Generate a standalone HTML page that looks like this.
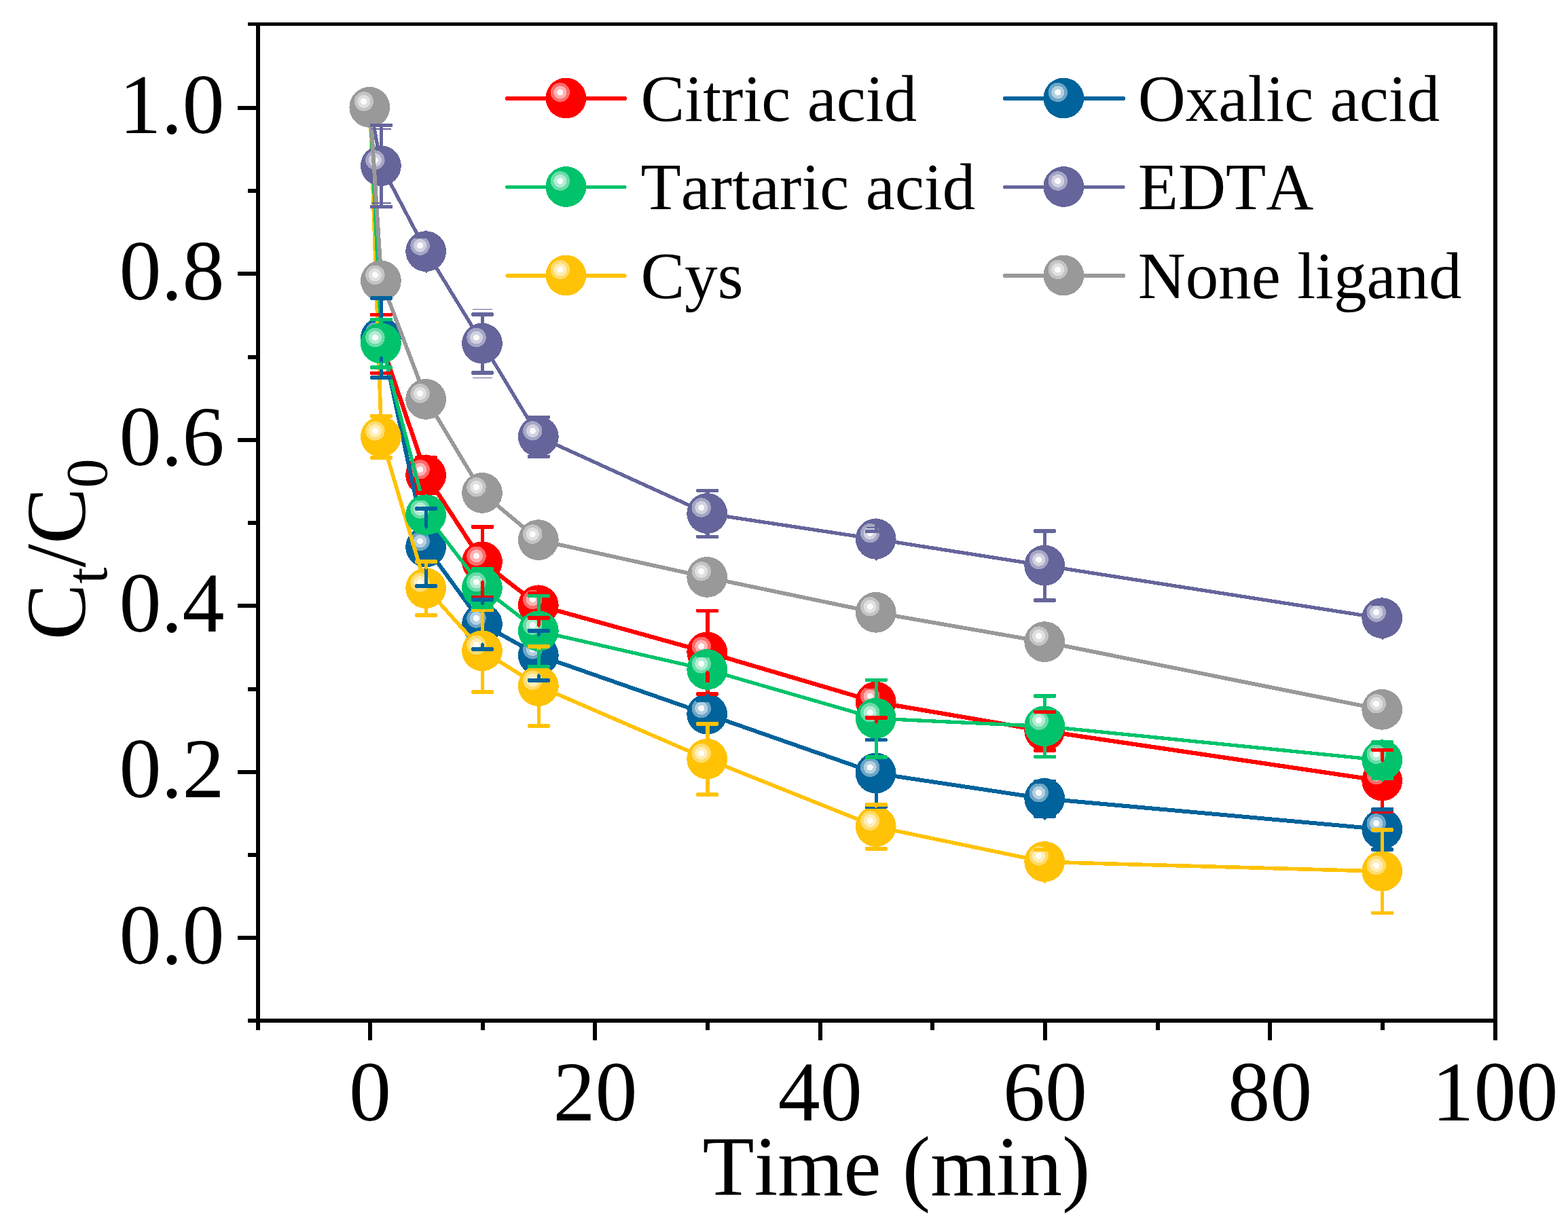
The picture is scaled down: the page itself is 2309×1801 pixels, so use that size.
<!DOCTYPE html>
<html lang="en"><head><meta charset="utf-8"><title>Ct/C0 versus time for different ligands</title><style>html,body{margin:0;padding:0;background:#fff}body{width:2309px;height:1801px;overflow:hidden}svg{display:block}text{font-family:"Liberation Serif","Times New Roman",serif;fill:#000;font-kerning:none}.tk{font-size:124px}.lg{font-size:97px}.sub{font-size:86px}</style></head><body>
<svg width="2309" height="1801" viewBox="0 0 2309 1801">
<rect width="2309" height="1801" fill="#fff"/>
<g shape-rendering="crispEdges">
<g><polyline points="545.1,158.3 561.7,505.6 627.9,700.2 710.8,827.7 793.6,891.8 1042.0,960.7 1290.5,1034.0 1539.0,1076.6 2036.0,1150.0" fill="none" stroke="#FF0000" stroke-width="6.3" stroke-linejoin="round" stroke-linecap="round"/><circle cx="544.3" cy="157.9" r="29.9" fill="#FF0000"/><circle cx="535.8" cy="149.4" r="14.2" fill="#FF6B6B"/><circle cx="535.8" cy="149.4" r="9.6" fill="#FFB2B2"/><circle cx="535.8" cy="149.4" r="4.6" fill="#FFF7F7"/><circle cx="560.9" cy="505.2" r="29.9" fill="#FF0000"/><circle cx="552.4" cy="496.7" r="14.2" fill="#FF6B6B"/><circle cx="552.4" cy="496.7" r="9.6" fill="#FFB2B2"/><circle cx="552.4" cy="496.7" r="4.6" fill="#FFF7F7"/><circle cx="627.1" cy="699.8" r="29.9" fill="#FF0000"/><circle cx="618.6" cy="691.3" r="14.2" fill="#FF6B6B"/><circle cx="618.6" cy="691.3" r="9.6" fill="#FFB2B2"/><circle cx="618.6" cy="691.3" r="4.6" fill="#FFF7F7"/><circle cx="710.0" cy="827.3" r="29.9" fill="#FF0000"/><circle cx="701.5" cy="818.8" r="14.2" fill="#FF6B6B"/><circle cx="701.5" cy="818.8" r="9.6" fill="#FFB2B2"/><circle cx="701.5" cy="818.8" r="4.6" fill="#FFF7F7"/><circle cx="792.8" cy="891.4" r="29.9" fill="#FF0000"/><circle cx="784.3" cy="882.9" r="14.2" fill="#FF6B6B"/><circle cx="784.3" cy="882.9" r="9.6" fill="#FFB2B2"/><circle cx="784.3" cy="882.9" r="4.6" fill="#FFF7F7"/><circle cx="1041.2" cy="960.3" r="29.9" fill="#FF0000"/><circle cx="1032.8" cy="951.8" r="14.2" fill="#FF6B6B"/><circle cx="1032.8" cy="951.8" r="9.6" fill="#FFB2B2"/><circle cx="1032.8" cy="951.8" r="4.6" fill="#FFF7F7"/><circle cx="1289.7" cy="1033.6" r="29.9" fill="#FF0000"/><circle cx="1281.2" cy="1025.1" r="14.2" fill="#FF6B6B"/><circle cx="1281.2" cy="1025.1" r="9.6" fill="#FFB2B2"/><circle cx="1281.2" cy="1025.1" r="4.6" fill="#FFF7F7"/><circle cx="1538.2" cy="1076.2" r="29.9" fill="#FF0000"/><circle cx="1529.7" cy="1067.7" r="14.2" fill="#FF6B6B"/><circle cx="1529.7" cy="1067.7" r="9.6" fill="#FFB2B2"/><circle cx="1529.7" cy="1067.7" r="4.6" fill="#FFF7F7"/><circle cx="2035.2" cy="1149.6" r="29.9" fill="#FF0000"/><circle cx="2026.7" cy="1141.1" r="14.2" fill="#FF6B6B"/><circle cx="2026.7" cy="1141.1" r="9.6" fill="#FFB2B2"/><circle cx="2026.7" cy="1141.1" r="4.6" fill="#FFF7F7"/></g>
<g><polyline points="545.1,158.3 561.7,497.6 627.9,805.9 710.8,919.4 793.6,965.3 1042.0,1052.0 1290.5,1138.9 1539.0,1176.2 2036.0,1221.3" fill="none" stroke="#00639B" stroke-width="6.0" stroke-linejoin="round" stroke-linecap="round"/><circle cx="544.3" cy="157.9" r="29.9" fill="#00639B"/><circle cx="535.8" cy="149.4" r="14.2" fill="#6BA5C5"/><circle cx="535.8" cy="149.4" r="9.6" fill="#B2D0E1"/><circle cx="535.8" cy="149.4" r="4.6" fill="#F7FAFC"/><circle cx="560.9" cy="497.2" r="29.9" fill="#00639B"/><circle cx="552.4" cy="488.7" r="14.2" fill="#6BA5C5"/><circle cx="552.4" cy="488.7" r="9.6" fill="#B2D0E1"/><circle cx="552.4" cy="488.7" r="4.6" fill="#F7FAFC"/><circle cx="627.1" cy="805.5" r="29.9" fill="#00639B"/><circle cx="618.6" cy="797.0" r="14.2" fill="#6BA5C5"/><circle cx="618.6" cy="797.0" r="9.6" fill="#B2D0E1"/><circle cx="618.6" cy="797.0" r="4.6" fill="#F7FAFC"/><circle cx="710.0" cy="919.0" r="29.9" fill="#00639B"/><circle cx="701.5" cy="910.5" r="14.2" fill="#6BA5C5"/><circle cx="701.5" cy="910.5" r="9.6" fill="#B2D0E1"/><circle cx="701.5" cy="910.5" r="4.6" fill="#F7FAFC"/><circle cx="792.8" cy="964.9" r="29.9" fill="#00639B"/><circle cx="784.3" cy="956.4" r="14.2" fill="#6BA5C5"/><circle cx="784.3" cy="956.4" r="9.6" fill="#B2D0E1"/><circle cx="784.3" cy="956.4" r="4.6" fill="#F7FAFC"/><circle cx="1041.2" cy="1051.6" r="29.9" fill="#00639B"/><circle cx="1032.8" cy="1043.1" r="14.2" fill="#6BA5C5"/><circle cx="1032.8" cy="1043.1" r="9.6" fill="#B2D0E1"/><circle cx="1032.8" cy="1043.1" r="4.6" fill="#F7FAFC"/><circle cx="1289.7" cy="1138.5" r="29.9" fill="#00639B"/><circle cx="1281.2" cy="1130.0" r="14.2" fill="#6BA5C5"/><circle cx="1281.2" cy="1130.0" r="9.6" fill="#B2D0E1"/><circle cx="1281.2" cy="1130.0" r="4.6" fill="#F7FAFC"/><circle cx="1538.2" cy="1175.8" r="29.9" fill="#00639B"/><circle cx="1529.7" cy="1167.3" r="14.2" fill="#6BA5C5"/><circle cx="1529.7" cy="1167.3" r="9.6" fill="#B2D0E1"/><circle cx="1529.7" cy="1167.3" r="4.6" fill="#F7FAFC"/><circle cx="2035.2" cy="1220.9" r="29.9" fill="#00639B"/><circle cx="2026.7" cy="1212.4" r="14.2" fill="#6BA5C5"/><circle cx="2026.7" cy="1212.4" r="9.6" fill="#B2D0E1"/><circle cx="2026.7" cy="1212.4" r="4.6" fill="#F7FAFC"/></g>
<g><polyline points="545.1,158.3 561.7,643.5 627.9,866.5 710.8,958.7 793.6,1010.5 1042.0,1118.0 1290.5,1217.5 1539.0,1269.3 2036.0,1283.2" fill="none" stroke="#FFC205" stroke-width="5.6" stroke-linejoin="round" stroke-linecap="round"/><circle cx="544.3" cy="157.9" r="29.9" fill="#FFC205"/><circle cx="535.8" cy="149.4" r="14.2" fill="#FFDC6E"/><circle cx="535.8" cy="149.4" r="9.6" fill="#FFEDB4"/><circle cx="535.8" cy="149.4" r="4.6" fill="#FFFDF8"/><circle cx="560.9" cy="643.1" r="29.9" fill="#FFC205"/><circle cx="552.4" cy="634.6" r="14.2" fill="#FFDC6E"/><circle cx="552.4" cy="634.6" r="9.6" fill="#FFEDB4"/><circle cx="552.4" cy="634.6" r="4.6" fill="#FFFDF8"/><circle cx="627.1" cy="866.1" r="29.9" fill="#FFC205"/><circle cx="618.6" cy="857.6" r="14.2" fill="#FFDC6E"/><circle cx="618.6" cy="857.6" r="9.6" fill="#FFEDB4"/><circle cx="618.6" cy="857.6" r="4.6" fill="#FFFDF8"/><circle cx="710.0" cy="958.3" r="29.9" fill="#FFC205"/><circle cx="701.5" cy="949.8" r="14.2" fill="#FFDC6E"/><circle cx="701.5" cy="949.8" r="9.6" fill="#FFEDB4"/><circle cx="701.5" cy="949.8" r="4.6" fill="#FFFDF8"/><circle cx="792.8" cy="1010.1" r="29.9" fill="#FFC205"/><circle cx="784.3" cy="1001.6" r="14.2" fill="#FFDC6E"/><circle cx="784.3" cy="1001.6" r="9.6" fill="#FFEDB4"/><circle cx="784.3" cy="1001.6" r="4.6" fill="#FFFDF8"/><circle cx="1041.2" cy="1117.6" r="29.9" fill="#FFC205"/><circle cx="1032.8" cy="1109.1" r="14.2" fill="#FFDC6E"/><circle cx="1032.8" cy="1109.1" r="9.6" fill="#FFEDB4"/><circle cx="1032.8" cy="1109.1" r="4.6" fill="#FFFDF8"/><circle cx="1289.7" cy="1217.1" r="29.9" fill="#FFC205"/><circle cx="1281.2" cy="1208.6" r="14.2" fill="#FFDC6E"/><circle cx="1281.2" cy="1208.6" r="9.6" fill="#FFEDB4"/><circle cx="1281.2" cy="1208.6" r="4.6" fill="#FFFDF8"/><circle cx="1538.2" cy="1268.9" r="29.9" fill="#FFC205"/><circle cx="1529.7" cy="1260.4" r="14.2" fill="#FFDC6E"/><circle cx="1529.7" cy="1260.4" r="9.6" fill="#FFEDB4"/><circle cx="1529.7" cy="1260.4" r="4.6" fill="#FFFDF8"/><circle cx="2035.2" cy="1282.8" r="29.9" fill="#FFC205"/><circle cx="2026.7" cy="1274.3" r="14.2" fill="#FFDC6E"/><circle cx="2026.7" cy="1274.3" r="9.6" fill="#FFEDB4"/><circle cx="2026.7" cy="1274.3" r="4.6" fill="#FFFDF8"/></g>
<g><polyline points="545.1,158.3 561.7,505.9 627.9,758.4 710.8,866.0 793.6,929.6 1042.0,986.3 1290.5,1058.1 1539.0,1069.6 2036.0,1119.6" fill="none" stroke="#00C36B" stroke-width="5.3" stroke-linejoin="round" stroke-linecap="round"/><circle cx="544.3" cy="157.9" r="29.9" fill="#00C36B"/><circle cx="535.8" cy="149.4" r="14.2" fill="#6BDCA9"/><circle cx="535.8" cy="149.4" r="9.6" fill="#B2EDD3"/><circle cx="535.8" cy="149.4" r="4.6" fill="#F7FDFB"/><circle cx="560.9" cy="505.5" r="29.9" fill="#00C36B"/><circle cx="552.4" cy="497.0" r="14.2" fill="#6BDCA9"/><circle cx="552.4" cy="497.0" r="9.6" fill="#B2EDD3"/><circle cx="552.4" cy="497.0" r="4.6" fill="#F7FDFB"/><circle cx="627.1" cy="758.0" r="29.9" fill="#00C36B"/><circle cx="618.6" cy="749.5" r="14.2" fill="#6BDCA9"/><circle cx="618.6" cy="749.5" r="9.6" fill="#B2EDD3"/><circle cx="618.6" cy="749.5" r="4.6" fill="#F7FDFB"/><circle cx="710.0" cy="865.6" r="29.9" fill="#00C36B"/><circle cx="701.5" cy="857.1" r="14.2" fill="#6BDCA9"/><circle cx="701.5" cy="857.1" r="9.6" fill="#B2EDD3"/><circle cx="701.5" cy="857.1" r="4.6" fill="#F7FDFB"/><circle cx="792.8" cy="929.2" r="29.9" fill="#00C36B"/><circle cx="784.3" cy="920.7" r="14.2" fill="#6BDCA9"/><circle cx="784.3" cy="920.7" r="9.6" fill="#B2EDD3"/><circle cx="784.3" cy="920.7" r="4.6" fill="#F7FDFB"/><circle cx="1041.2" cy="985.9" r="29.9" fill="#00C36B"/><circle cx="1032.8" cy="977.4" r="14.2" fill="#6BDCA9"/><circle cx="1032.8" cy="977.4" r="9.6" fill="#B2EDD3"/><circle cx="1032.8" cy="977.4" r="4.6" fill="#F7FDFB"/><circle cx="1289.7" cy="1057.7" r="29.9" fill="#00C36B"/><circle cx="1281.2" cy="1049.2" r="14.2" fill="#6BDCA9"/><circle cx="1281.2" cy="1049.2" r="9.6" fill="#B2EDD3"/><circle cx="1281.2" cy="1049.2" r="4.6" fill="#F7FDFB"/><circle cx="1538.2" cy="1069.2" r="29.9" fill="#00C36B"/><circle cx="1529.7" cy="1060.7" r="14.2" fill="#6BDCA9"/><circle cx="1529.7" cy="1060.7" r="9.6" fill="#B2EDD3"/><circle cx="1529.7" cy="1060.7" r="4.6" fill="#F7FDFB"/><circle cx="2035.2" cy="1119.2" r="29.9" fill="#00C36B"/><circle cx="2026.7" cy="1110.7" r="14.2" fill="#6BDCA9"/><circle cx="2026.7" cy="1110.7" r="9.6" fill="#B2EDD3"/><circle cx="2026.7" cy="1110.7" r="4.6" fill="#F7FDFB"/></g>
<g><polyline points="545.1,158.3 561.7,244.5 627.9,370.5 710.8,506.0 793.6,643.3 1042.0,756.4 1290.5,794.0 1539.0,833.0 2036.0,910.6" fill="none" stroke="#65659B" stroke-width="5.3" stroke-linejoin="round" stroke-linecap="round"/><circle cx="544.3" cy="157.9" r="29.9" fill="#65659B"/><circle cx="535.8" cy="149.4" r="14.2" fill="#A6A6C5"/><circle cx="535.8" cy="149.4" r="9.6" fill="#D1D1E1"/><circle cx="535.8" cy="149.4" r="4.6" fill="#FAFAFC"/><circle cx="560.9" cy="244.1" r="29.9" fill="#65659B"/><circle cx="552.4" cy="235.6" r="14.2" fill="#A6A6C5"/><circle cx="552.4" cy="235.6" r="9.6" fill="#D1D1E1"/><circle cx="552.4" cy="235.6" r="4.6" fill="#FAFAFC"/><circle cx="627.1" cy="370.1" r="29.9" fill="#65659B"/><circle cx="618.6" cy="361.6" r="14.2" fill="#A6A6C5"/><circle cx="618.6" cy="361.6" r="9.6" fill="#D1D1E1"/><circle cx="618.6" cy="361.6" r="4.6" fill="#FAFAFC"/><circle cx="710.0" cy="505.6" r="29.9" fill="#65659B"/><circle cx="701.5" cy="497.1" r="14.2" fill="#A6A6C5"/><circle cx="701.5" cy="497.1" r="9.6" fill="#D1D1E1"/><circle cx="701.5" cy="497.1" r="4.6" fill="#FAFAFC"/><circle cx="792.8" cy="642.9" r="29.9" fill="#65659B"/><circle cx="784.3" cy="634.4" r="14.2" fill="#A6A6C5"/><circle cx="784.3" cy="634.4" r="9.6" fill="#D1D1E1"/><circle cx="784.3" cy="634.4" r="4.6" fill="#FAFAFC"/><circle cx="1041.2" cy="756.0" r="29.9" fill="#65659B"/><circle cx="1032.8" cy="747.5" r="14.2" fill="#A6A6C5"/><circle cx="1032.8" cy="747.5" r="9.6" fill="#D1D1E1"/><circle cx="1032.8" cy="747.5" r="4.6" fill="#FAFAFC"/><circle cx="1289.7" cy="793.6" r="29.9" fill="#65659B"/><circle cx="1281.2" cy="785.1" r="14.2" fill="#A6A6C5"/><circle cx="1281.2" cy="785.1" r="9.6" fill="#D1D1E1"/><circle cx="1281.2" cy="785.1" r="4.6" fill="#FAFAFC"/><circle cx="1538.2" cy="832.6" r="29.9" fill="#65659B"/><circle cx="1529.7" cy="824.1" r="14.2" fill="#A6A6C5"/><circle cx="1529.7" cy="824.1" r="9.6" fill="#D1D1E1"/><circle cx="1529.7" cy="824.1" r="4.6" fill="#FAFAFC"/><circle cx="2035.2" cy="910.2" r="29.9" fill="#65659B"/><circle cx="2026.7" cy="901.7" r="14.2" fill="#A6A6C5"/><circle cx="2026.7" cy="901.7" r="9.6" fill="#D1D1E1"/><circle cx="2026.7" cy="901.7" r="4.6" fill="#FAFAFC"/></g>
<g><polyline points="545.1,158.3 561.7,413.8 627.9,588.3 710.8,726.3 793.6,795.5 1042.0,850.3 1290.5,902.2 1539.0,945.5 2036.0,1045.2" fill="none" stroke="#999999" stroke-width="5.8" stroke-linejoin="round" stroke-linecap="round"/><circle cx="544.3" cy="157.9" r="29.9" fill="#999999"/><circle cx="535.8" cy="149.4" r="14.2" fill="#C4C4C4"/><circle cx="535.8" cy="149.4" r="9.6" fill="#E0E0E0"/><circle cx="535.8" cy="149.4" r="4.6" fill="#FCFCFC"/><circle cx="560.9" cy="413.4" r="29.9" fill="#999999"/><circle cx="552.4" cy="404.9" r="14.2" fill="#C4C4C4"/><circle cx="552.4" cy="404.9" r="9.6" fill="#E0E0E0"/><circle cx="552.4" cy="404.9" r="4.6" fill="#FCFCFC"/><circle cx="627.1" cy="587.9" r="29.9" fill="#999999"/><circle cx="618.6" cy="579.4" r="14.2" fill="#C4C4C4"/><circle cx="618.6" cy="579.4" r="9.6" fill="#E0E0E0"/><circle cx="618.6" cy="579.4" r="4.6" fill="#FCFCFC"/><circle cx="710.0" cy="725.9" r="29.9" fill="#999999"/><circle cx="701.5" cy="717.4" r="14.2" fill="#C4C4C4"/><circle cx="701.5" cy="717.4" r="9.6" fill="#E0E0E0"/><circle cx="701.5" cy="717.4" r="4.6" fill="#FCFCFC"/><circle cx="792.8" cy="795.1" r="29.9" fill="#999999"/><circle cx="784.3" cy="786.6" r="14.2" fill="#C4C4C4"/><circle cx="784.3" cy="786.6" r="9.6" fill="#E0E0E0"/><circle cx="784.3" cy="786.6" r="4.6" fill="#FCFCFC"/><circle cx="1041.2" cy="849.9" r="29.9" fill="#999999"/><circle cx="1032.8" cy="841.4" r="14.2" fill="#C4C4C4"/><circle cx="1032.8" cy="841.4" r="9.6" fill="#E0E0E0"/><circle cx="1032.8" cy="841.4" r="4.6" fill="#FCFCFC"/><circle cx="1289.7" cy="901.8" r="29.9" fill="#999999"/><circle cx="1281.2" cy="893.3" r="14.2" fill="#C4C4C4"/><circle cx="1281.2" cy="893.3" r="9.6" fill="#E0E0E0"/><circle cx="1281.2" cy="893.3" r="4.6" fill="#FCFCFC"/><circle cx="1538.2" cy="945.1" r="29.9" fill="#999999"/><circle cx="1529.7" cy="936.6" r="14.2" fill="#C4C4C4"/><circle cx="1529.7" cy="936.6" r="9.6" fill="#E0E0E0"/><circle cx="1529.7" cy="936.6" r="4.6" fill="#FCFCFC"/><circle cx="2035.2" cy="1044.8" r="29.9" fill="#999999"/><circle cx="2026.7" cy="1036.3" r="14.2" fill="#C4C4C4"/><circle cx="2026.7" cy="1036.3" r="9.6" fill="#E0E0E0"/><circle cx="2026.7" cy="1036.3" r="4.6" fill="#FCFCFC"/></g>
<g stroke="#FF0000" fill="#FF0000" stroke-width="5.6" stroke-linecap="round"><polygon points="558.7,463.3 564.1,463.3 564.1,475.5 561.4,478.5 558.7,475.5" stroke="none"/><polygon points="544.8,461.7 546.0,460.5 576.8,460.5 578.0,461.7 578.0,464.9 576.8,466.1 546.0,466.1 544.8,464.9" stroke="none"/><polygon points="558.7,549.4 564.1,549.4 564.1,534.9 561.4,531.9 558.7,534.9" stroke="none"/><polygon points="544.8,547.8 546.0,546.6 576.8,546.6 578.0,547.8 578.0,551.0 576.8,552.2 546.0,552.2 544.8,551.0" stroke="none"/><polygon points="624.9,674.2 630.3,674.2 630.3,671.7 627.6,668.7 624.9,671.7" stroke="none"/><polygon points="611.0,672.6 612.2,671.4 643.0,671.4 644.2,672.6 644.2,675.8 643.0,677.0 612.2,677.0 611.0,675.8" stroke="none"/><polygon points="624.9,726.2 630.3,726.2 630.3,729.3 627.6,732.3 624.9,729.3" stroke="none"/><polygon points="611.0,724.6 612.2,723.4 643.0,723.4 644.2,724.6 644.2,727.8 643.0,729.0 612.2,729.0 611.0,727.8" stroke="none"/><polygon points="707.8,775.7 713.2,775.7 713.2,797.6 710.5,800.6 707.8,797.6" stroke="none"/><polygon points="693.9,774.1 695.1,772.9 725.9,772.9 727.1,774.1 727.1,777.3 725.9,778.5 695.1,778.5 693.9,777.3" stroke="none"/><polygon points="707.8,879.7 713.2,879.7 713.2,857.0 710.5,854.0 707.8,857.0" stroke="none"/><polygon points="693.9,878.1 695.1,876.9 725.9,876.9 727.1,878.1 727.1,881.3 725.9,882.5 695.1,882.5 693.9,881.3" stroke="none"/><polygon points="790.6,873.8 796.0,873.8 796.0,863.3 793.3,860.3 790.6,863.3" stroke="none"/><polygon points="776.7,872.2 777.9,871.0 808.7,871.0 809.9,872.2 809.9,875.4 808.7,876.6 777.9,876.6 776.7,875.4" stroke="none"/><polygon points="790.6,909.8 796.0,909.8 796.0,920.9 793.3,923.9 790.6,920.9" stroke="none"/><polygon points="776.7,908.2 777.9,907.0 808.7,907.0 809.9,908.2 809.9,911.4 808.7,912.6 777.9,912.6 776.7,911.4" stroke="none"/><polygon points="1039.0,899.4 1044.5,899.4 1044.5,930.6 1041.8,933.6 1039.0,930.6" stroke="none"/><polygon points="1025.2,897.8 1026.3,896.6 1057.2,896.6 1058.3,897.8 1058.3,901.0 1057.2,902.2 1026.3,902.2 1025.2,901.0" stroke="none"/><polygon points="1039.0,1022.0 1044.5,1022.0 1044.5,990.0 1041.8,987.0 1039.0,990.0" stroke="none"/><polygon points="1025.2,1020.4 1026.3,1019.2 1057.2,1019.2 1058.3,1020.4 1058.3,1023.6 1057.2,1024.8 1026.3,1024.8 1025.2,1023.6" stroke="none"/><polygon points="1287.5,1011.0 1292.9,1011.0 1292.9,1005.5 1290.2,1002.5 1287.5,1005.5" stroke="none"/><polygon points="1273.6,1009.4 1274.8,1008.2 1305.6,1008.2 1306.8,1009.4 1306.8,1012.6 1305.6,1013.8 1274.8,1013.8 1273.6,1012.6" stroke="none"/><polygon points="1287.5,1057.0 1292.9,1057.0 1292.9,1063.1 1290.2,1066.1 1287.5,1063.1" stroke="none"/><polygon points="1273.6,1055.4 1274.8,1054.2 1305.6,1054.2 1306.8,1055.4 1306.8,1058.6 1305.6,1059.8 1274.8,1059.8 1273.6,1058.6" stroke="none"/><polygon points="1536.0,1048.4 1541.4,1048.4 1541.4,1048.1 1538.7,1045.1 1536.0,1048.1" stroke="none"/><polygon points="1522.1,1046.8 1523.3,1045.6 1554.1,1045.6 1555.3,1046.8 1555.3,1050.0 1554.1,1051.2 1523.3,1051.2 1522.1,1050.0" stroke="none"/><polygon points="1536.0,1104.8 1541.4,1104.8 1541.4,1105.7 1538.7,1108.7 1536.0,1105.7" stroke="none"/><polygon points="1522.1,1103.2 1523.3,1102.0 1554.1,1102.0 1555.3,1103.2 1555.3,1106.4 1554.1,1107.6 1523.3,1107.6 1522.1,1106.4" stroke="none"/><polygon points="2033.0,1104.4 2038.4,1104.4 2038.4,1119.9 2035.7,1122.9 2033.0,1119.9" stroke="none"/><polygon points="2019.1,1102.8 2020.2,1101.6 2051.1,1101.6 2052.2,1102.8 2052.2,1106.0 2051.1,1107.2 2020.2,1107.2 2019.1,1106.0" stroke="none"/><polygon points="2033.0,1195.6 2038.4,1195.6 2038.4,1179.3 2035.7,1176.3 2033.0,1179.3" stroke="none"/><polygon points="2019.1,1194.0 2020.2,1192.8 2051.1,1192.8 2052.2,1194.0 2052.2,1197.2 2051.1,1198.4 2020.2,1198.4 2019.1,1197.2" stroke="none"/></g>
<g stroke="#00639B" fill="#00639B" stroke-width="5.6" stroke-linecap="round"><polygon points="558.7,439.0 564.1,439.0 564.1,467.5 561.4,470.5 558.7,467.5" stroke="none"/><polygon points="544.8,437.4 546.0,436.2 576.8,436.2 578.0,437.4 578.0,440.6 576.8,441.8 546.0,441.8 544.8,440.6" stroke="none"/><polygon points="558.7,556.2 564.1,556.2 564.1,526.9 561.4,523.9 558.7,526.9" stroke="none"/><polygon points="544.8,554.6 546.0,553.4 576.8,553.4 578.0,554.6 578.0,557.8 576.8,559.0 546.0,559.0 544.8,557.8" stroke="none"/><polygon points="624.9,748.7 630.3,748.7 630.3,775.8 627.6,778.8 624.9,775.8" stroke="none"/><polygon points="611.0,747.1 612.2,745.9 643.0,745.9 644.2,747.1 644.2,750.3 643.0,751.5 612.2,751.5 611.0,750.3" stroke="none"/><polygon points="624.9,863.1 630.3,863.1 630.3,835.2 627.6,832.2 624.9,835.2" stroke="none"/><polygon points="611.0,861.5 612.2,860.3 643.0,860.3 644.2,861.5 644.2,864.7 643.0,865.9 612.2,865.9 611.0,864.7" stroke="none"/><polygon points="707.8,882.8 713.2,882.8 713.2,889.3 710.5,892.3 707.8,889.3" stroke="none"/><polygon points="693.9,881.2 695.1,880.0 725.9,880.0 727.1,881.2 727.1,884.4 725.9,885.6 695.1,885.6 693.9,884.4" stroke="none"/><polygon points="707.8,956.0 713.2,956.0 713.2,948.7 710.5,945.7 707.8,948.7" stroke="none"/><polygon points="693.9,954.4 695.1,953.2 725.9,953.2 727.1,954.4 727.1,957.6 725.9,958.8 695.1,958.8 693.9,957.6" stroke="none"/><polygon points="790.6,928.7 796.0,928.7 796.0,935.2 793.3,938.2 790.6,935.2" stroke="none"/><polygon points="776.7,927.1 777.9,925.9 808.7,925.9 809.9,927.1 809.9,930.3 808.7,931.5 777.9,931.5 776.7,930.3" stroke="none"/><polygon points="790.6,1001.9 796.0,1001.9 796.0,994.6 793.3,991.6 790.6,994.6" stroke="none"/><polygon points="776.7,1000.3 777.9,999.1 808.7,999.1 809.9,1000.3 809.9,1003.5 808.7,1004.7 777.9,1004.7 776.7,1003.5" stroke="none"/><polygon points="1039.0,1031.6 1044.5,1031.6 1044.5,1023.5 1041.8,1020.5 1039.0,1023.5" stroke="none"/><polygon points="1025.2,1030.0 1026.3,1028.8 1057.2,1028.8 1058.3,1030.0 1058.3,1033.2 1057.2,1034.4 1026.3,1034.4 1025.2,1033.2" stroke="none"/><polygon points="1039.0,1072.4 1044.5,1072.4 1044.5,1081.1 1041.8,1084.1 1039.0,1081.1" stroke="none"/><polygon points="1025.2,1070.8 1026.3,1069.6 1057.2,1069.6 1058.3,1070.8 1058.3,1074.0 1057.2,1075.2 1026.3,1075.2 1025.2,1074.0" stroke="none"/><polygon points="1287.5,1089.6 1292.9,1089.6 1292.9,1108.8 1290.2,1111.8 1287.5,1108.8" stroke="none"/><polygon points="1273.6,1088.0 1274.8,1086.8 1305.6,1086.8 1306.8,1088.0 1306.8,1091.2 1305.6,1092.4 1274.8,1092.4 1273.6,1091.2" stroke="none"/><polygon points="1287.5,1188.2 1292.9,1188.2 1292.9,1168.2 1290.2,1165.2 1287.5,1168.2" stroke="none"/><polygon points="1273.6,1186.6 1274.8,1185.4 1305.6,1185.4 1306.8,1186.6 1306.8,1189.8 1305.6,1191.0 1274.8,1191.0 1273.6,1189.8" stroke="none"/><polygon points="1536.0,1150.7 1541.4,1150.7 1541.4,1147.7 1538.7,1144.7 1536.0,1147.7" stroke="none"/><polygon points="1522.1,1149.1 1523.3,1147.9 1554.1,1147.9 1555.3,1149.1 1555.3,1152.3 1554.1,1153.5 1523.3,1153.5 1522.1,1152.3" stroke="none"/><polygon points="1536.0,1201.7 1541.4,1201.7 1541.4,1205.3 1538.7,1208.3 1536.0,1205.3" stroke="none"/><polygon points="1522.1,1200.1 1523.3,1198.9 1554.1,1198.9 1555.3,1200.1 1555.3,1203.3 1554.1,1204.5 1523.3,1204.5 1522.1,1203.3" stroke="none"/><polygon points="2033.0,1191.7 2038.4,1191.7 2038.4,1191.7 2035.7,1189.8 2033.0,1191.7" stroke="none"/><polygon points="2019.1,1190.1 2020.2,1188.9 2051.1,1188.9 2052.2,1190.1 2052.2,1193.3 2051.1,1194.5 2020.2,1194.5 2019.1,1193.3" stroke="none"/><polygon points="2033.0,1250.9 2038.4,1250.9 2038.4,1250.9 2035.7,1253.4 2033.0,1250.9" stroke="none"/><polygon points="2019.1,1249.3 2020.2,1248.1 2051.1,1248.1 2052.2,1249.3 2052.2,1252.5 2051.1,1253.7 2020.2,1253.7 2019.1,1252.5" stroke="none"/></g>
<g stroke="#FFC205" fill="#FFC205" stroke-width="5.6" stroke-linecap="round"><polygon points="558.7,612.8 564.1,612.8 564.1,613.4 561.4,616.4 558.7,613.4" stroke="none"/><polygon points="544.8,611.2 546.0,610.0 576.8,610.0 578.0,611.2 578.0,614.4 576.8,615.6 546.0,615.6 544.8,614.4" stroke="none"/><polygon points="558.7,674.2 564.1,674.2 564.1,672.8 561.4,669.8 558.7,672.8" stroke="none"/><polygon points="544.8,672.6 546.0,671.4 576.8,671.4 578.0,672.6 578.0,675.8 576.8,677.0 546.0,677.0 544.8,675.8" stroke="none"/><polygon points="624.9,827.0 630.3,827.0 630.3,836.4 627.6,839.4 624.9,836.4" stroke="none"/><polygon points="611.0,825.4 612.2,824.2 643.0,824.2 644.2,825.4 644.2,828.6 643.0,829.8 612.2,829.8 611.0,828.6" stroke="none"/><polygon points="624.9,906.0 630.3,906.0 630.3,895.8 627.6,892.8 624.9,895.8" stroke="none"/><polygon points="611.0,904.4 612.2,903.2 643.0,903.2 644.2,904.4 644.2,907.6 643.0,908.8 612.2,908.8 611.0,907.6" stroke="none"/><polygon points="707.8,898.5 713.2,898.5 713.2,928.6 710.5,931.6 707.8,928.6" stroke="none"/><polygon points="693.9,896.9 695.1,895.7 725.9,895.7 727.1,896.9 727.1,900.1 725.9,901.3 695.1,901.3 693.9,900.1" stroke="none"/><polygon points="707.8,1018.9 713.2,1018.9 713.2,988.0 710.5,985.0 707.8,988.0" stroke="none"/><polygon points="693.9,1017.3 695.1,1016.1 725.9,1016.1 727.1,1017.3 727.1,1020.5 725.9,1021.7 695.1,1021.7 693.9,1020.5" stroke="none"/><polygon points="790.6,951.9 796.0,951.9 796.0,980.4 793.3,983.4 790.6,980.4" stroke="none"/><polygon points="776.7,950.3 777.9,949.1 808.7,949.1 809.9,950.3 809.9,953.5 808.7,954.7 777.9,954.7 776.7,953.5" stroke="none"/><polygon points="790.6,1069.1 796.0,1069.1 796.0,1039.8 793.3,1036.8 790.6,1039.8" stroke="none"/><polygon points="776.7,1067.5 777.9,1066.3 808.7,1066.3 809.9,1067.5 809.9,1070.7 808.7,1071.9 777.9,1071.9 776.7,1070.7" stroke="none"/><polygon points="1039.0,1065.8 1044.5,1065.8 1044.5,1087.9 1041.8,1090.9 1039.0,1087.9" stroke="none"/><polygon points="1025.2,1064.2 1026.3,1063.0 1057.2,1063.0 1058.3,1064.2 1058.3,1067.4 1057.2,1068.6 1026.3,1068.6 1025.2,1067.4" stroke="none"/><polygon points="1039.0,1170.2 1044.5,1170.2 1044.5,1147.3 1041.8,1144.3 1039.0,1147.3" stroke="none"/><polygon points="1025.2,1168.6 1026.3,1167.4 1057.2,1167.4 1058.3,1168.6 1058.3,1171.8 1057.2,1173.0 1026.3,1173.0 1025.2,1171.8" stroke="none"/><polygon points="1287.5,1185.0 1292.9,1185.0 1292.9,1187.4 1290.2,1190.4 1287.5,1187.4" stroke="none"/><polygon points="1273.6,1183.4 1274.8,1182.2 1305.6,1182.2 1306.8,1183.4 1306.8,1186.6 1305.6,1187.8 1274.8,1187.8 1273.6,1186.6" stroke="none"/><polygon points="1287.5,1250.0 1292.9,1250.0 1292.9,1246.8 1290.2,1243.8 1287.5,1246.8" stroke="none"/><polygon points="1273.6,1248.4 1274.8,1247.2 1305.6,1247.2 1306.8,1248.4 1306.8,1251.6 1305.6,1252.8 1274.8,1252.8 1273.6,1251.6" stroke="none"/><polygon points="1536.0,1251.3 1541.4,1251.3 1541.4,1240.8 1538.7,1237.8 1536.0,1240.8" stroke="none"/><polygon points="1522.1,1249.7 1523.3,1248.5 1554.1,1248.5 1555.3,1249.7 1555.3,1252.9 1554.1,1254.1 1523.3,1254.1 1522.1,1252.9" stroke="none"/><polygon points="1536.0,1287.3 1541.4,1287.3 1541.4,1298.4 1538.7,1301.4 1536.0,1298.4" stroke="none"/><polygon points="1522.1,1285.7 1523.3,1284.5 1554.1,1284.5 1555.3,1285.7 1555.3,1288.9 1554.1,1290.1 1523.3,1290.1 1522.1,1288.9" stroke="none"/><polygon points="2033.0,1222.1 2038.4,1222.1 2038.4,1253.1 2035.7,1256.1 2033.0,1253.1" stroke="none"/><polygon points="2019.1,1220.5 2020.2,1219.3 2051.1,1219.3 2052.2,1220.5 2052.2,1223.7 2051.1,1224.9 2020.2,1224.9 2019.1,1223.7" stroke="none"/><polygon points="2033.0,1344.3 2038.4,1344.3 2038.4,1312.5 2035.7,1309.5 2033.0,1312.5" stroke="none"/><polygon points="2019.1,1342.7 2020.2,1341.5 2051.1,1341.5 2052.2,1342.7 2052.2,1345.9 2051.1,1347.1 2020.2,1347.1 2019.1,1345.9" stroke="none"/></g>
<g stroke="#00C36B" fill="#00C36B" stroke-width="5.6" stroke-linecap="round"><polygon points="558.7,470.6 564.1,470.6 564.1,475.8 561.4,478.8 558.7,475.8" stroke="none"/><polygon points="544.8,469.0 546.0,467.8 576.8,467.8 578.0,469.0 578.0,472.2 576.8,473.4 546.0,473.4 544.8,472.2" stroke="none"/><polygon points="558.7,541.2 564.1,541.2 564.1,535.2 561.4,532.2 558.7,535.2" stroke="none"/><polygon points="544.8,539.6 546.0,538.4 576.8,538.4 578.0,539.6 578.0,542.8 576.8,544.0 546.0,544.0 544.8,542.8" stroke="none"/><polygon points="624.9,734.4 630.3,734.4 630.3,729.9 627.6,726.9 624.9,729.9" stroke="none"/><polygon points="611.0,732.8 612.2,731.6 643.0,731.6 644.2,732.8 644.2,736.0 643.0,737.2 612.2,737.2 611.0,736.0" stroke="none"/><polygon points="624.9,782.4 630.3,782.4 630.3,787.5 627.6,790.5 624.9,787.5" stroke="none"/><polygon points="611.0,780.8 612.2,779.6 643.0,779.6 644.2,780.8 644.2,784.0 643.0,785.2 612.2,785.2 611.0,784.0" stroke="none"/><polygon points="707.8,838.2 713.2,838.2 713.2,837.5 710.5,834.5 707.8,837.5" stroke="none"/><polygon points="693.9,836.6 695.1,835.4 725.9,835.4 727.1,836.6 727.1,839.8 725.9,841.0 695.1,841.0 693.9,839.8" stroke="none"/><polygon points="707.8,893.8 713.2,893.8 713.2,895.1 710.5,898.1 707.8,895.1" stroke="none"/><polygon points="693.9,892.2 695.1,891.0 725.9,891.0 727.1,892.2 727.1,895.4 725.9,896.6 695.1,896.6 693.9,895.4" stroke="none"/><polygon points="790.6,877.6 796.0,877.6 796.0,899.5 793.3,902.5 790.6,899.5" stroke="none"/><polygon points="776.7,876.0 777.9,874.8 808.7,874.8 809.9,876.0 809.9,879.2 808.7,880.4 777.9,880.4 776.7,879.2" stroke="none"/><polygon points="790.6,981.6 796.0,981.6 796.0,958.9 793.3,955.9 790.6,958.9" stroke="none"/><polygon points="776.7,980.0 777.9,978.8 808.7,978.8 809.9,980.0 809.9,983.2 808.7,984.4 777.9,984.4 776.7,983.2" stroke="none"/><polygon points="1039.0,964.8 1044.5,964.8 1044.5,957.8 1041.8,954.8 1039.0,957.8" stroke="none"/><polygon points="1025.2,963.2 1026.3,962.0 1057.2,962.0 1058.3,963.2 1058.3,966.4 1057.2,967.6 1026.3,967.6 1025.2,966.4" stroke="none"/><polygon points="1039.0,1007.8 1044.5,1007.8 1044.5,1015.4 1041.8,1018.4 1039.0,1015.4" stroke="none"/><polygon points="1025.2,1006.2 1026.3,1005.0 1057.2,1005.0 1058.3,1006.2 1058.3,1009.4 1057.2,1010.6 1026.3,1010.6 1025.2,1009.4" stroke="none"/><polygon points="1287.5,1001.3 1292.9,1001.3 1292.9,1028.0 1290.2,1031.0 1287.5,1028.0" stroke="none"/><polygon points="1273.6,999.7 1274.8,998.5 1305.6,998.5 1306.8,999.7 1306.8,1002.9 1305.6,1004.1 1274.8,1004.1 1273.6,1002.9" stroke="none"/><polygon points="1287.5,1114.9 1292.9,1114.9 1292.9,1087.4 1290.2,1084.4 1287.5,1087.4" stroke="none"/><polygon points="1273.6,1113.3 1274.8,1112.1 1305.6,1112.1 1306.8,1113.3 1306.8,1116.5 1305.6,1117.7 1274.8,1117.7 1273.6,1116.5" stroke="none"/><polygon points="1536.0,1024.9 1541.4,1024.9 1541.4,1039.5 1538.7,1042.5 1536.0,1039.5" stroke="none"/><polygon points="1522.1,1023.3 1523.3,1022.1 1554.1,1022.1 1555.3,1023.3 1555.3,1026.5 1554.1,1027.7 1523.3,1027.7 1522.1,1026.5" stroke="none"/><polygon points="1536.0,1114.3 1541.4,1114.3 1541.4,1098.9 1538.7,1095.9 1536.0,1098.9" stroke="none"/><polygon points="1522.1,1112.7 1523.3,1111.5 1554.1,1111.5 1555.3,1112.7 1555.3,1115.9 1554.1,1117.1 1523.3,1117.1 1522.1,1115.9" stroke="none"/><polygon points="2033.0,1093.0 2038.4,1093.0 2038.4,1091.1 2035.7,1088.1 2033.0,1091.1" stroke="none"/><polygon points="2019.1,1091.4 2020.2,1090.2 2051.1,1090.2 2052.2,1091.4 2052.2,1094.6 2051.1,1095.8 2020.2,1095.8 2019.1,1094.6" stroke="none"/><polygon points="2033.0,1146.2 2038.4,1146.2 2038.4,1148.7 2035.7,1151.7 2033.0,1148.7" stroke="none"/><polygon points="2019.1,1144.6 2020.2,1143.4 2051.1,1143.4 2052.2,1144.6 2052.2,1147.8 2051.1,1149.0 2020.2,1149.0 2019.1,1147.8" stroke="none"/></g>
<g stroke="#65659B" fill="#65659B" stroke-width="5.6" stroke-linecap="round"><polygon points="558.7,184.5 564.1,184.5 564.1,214.4 561.4,217.4 558.7,214.4" stroke="none"/><polygon points="544.8,182.9 546.0,181.7 576.8,181.7 578.0,182.9 578.0,186.1 576.8,187.3 546.0,187.3 544.8,186.1" stroke="none"/><polygon points="558.7,304.5 564.1,304.5 564.1,273.8 561.4,270.8 558.7,273.8" stroke="none"/><polygon points="544.8,302.9 546.0,301.7 576.8,301.7 578.0,302.9 578.0,306.1 576.8,307.3 546.0,307.3 544.8,306.1" stroke="none"/><polygon points="624.9,348.5 630.3,348.5 630.3,342.0 627.6,339.0 624.9,342.0" stroke="none"/><polygon points="611.0,346.9 612.2,345.7 643.0,345.7 644.2,346.9 644.2,350.1 643.0,351.3 612.2,351.3 611.0,350.1" stroke="none"/><polygon points="624.9,392.5 630.3,392.5 630.3,399.6 627.6,402.6 624.9,399.6" stroke="none"/><polygon points="611.0,390.9 612.2,389.7 643.0,389.7 644.2,390.9 644.2,394.1 643.0,395.3 612.2,395.3 611.0,394.1" stroke="none"/><polygon points="707.8,463.0 713.2,463.0 713.2,475.9 710.5,478.9 707.8,475.9" stroke="none"/><polygon points="693.9,461.4 695.1,460.2 725.9,460.2 727.1,461.4 727.1,464.6 725.9,465.8 695.1,465.8 693.9,464.6" stroke="none"/><polygon points="707.8,549.0 713.2,549.0 713.2,535.3 710.5,532.3 707.8,535.3" stroke="none"/><polygon points="693.9,547.4 695.1,546.2 725.9,546.2 727.1,547.4 727.1,550.6 725.9,551.8 695.1,551.8 693.9,550.6" stroke="none"/><polygon points="790.6,614.3 796.0,614.3 796.0,614.3 793.3,611.8 790.6,614.3" stroke="none"/><polygon points="776.7,612.7 777.9,611.5 808.7,611.5 809.9,612.7 809.9,615.9 808.7,617.1 777.9,617.1 776.7,615.9" stroke="none"/><polygon points="790.6,672.3 796.0,672.3 796.0,672.4 793.3,675.4 790.6,672.4" stroke="none"/><polygon points="776.7,670.7 777.9,669.5 808.7,669.5 809.9,670.7 809.9,673.9 808.7,675.1 777.9,675.1 776.7,673.9" stroke="none"/><polygon points="1039.0,722.5 1044.5,722.5 1044.5,726.3 1041.8,729.3 1039.0,726.3" stroke="none"/><polygon points="1025.2,720.9 1026.3,719.7 1057.2,719.7 1058.3,720.9 1058.3,724.1 1057.2,725.3 1026.3,725.3 1025.2,724.1" stroke="none"/><polygon points="1039.0,790.3 1044.5,790.3 1044.5,785.7 1041.8,782.7 1039.0,785.7" stroke="none"/><polygon points="1025.2,788.7 1026.3,787.5 1057.2,787.5 1058.3,788.7 1058.3,791.9 1057.2,793.1 1026.3,793.1 1025.2,791.9" stroke="none"/><polygon points="1287.5,782.6 1292.9,782.6 1292.9,765.5 1290.2,762.5 1287.5,765.5" stroke="none"/><polygon points="1273.6,781.0 1274.8,779.8 1305.6,779.8 1306.8,781.0 1306.8,784.2 1305.6,785.4 1274.8,785.4 1273.6,784.2" stroke="none"/><polygon points="1287.5,805.4 1292.9,805.4 1292.9,823.1 1290.2,826.1 1287.5,823.1" stroke="none"/><polygon points="1273.6,803.8 1274.8,802.6 1305.6,802.6 1306.8,803.8 1306.8,807.0 1305.6,808.2 1274.8,808.2 1273.6,807.0" stroke="none"/><polygon points="1536.0,782.0 1541.4,782.0 1541.4,802.9 1538.7,805.9 1536.0,802.9" stroke="none"/><polygon points="1522.1,780.4 1523.3,779.2 1554.1,779.2 1555.3,780.4 1555.3,783.6 1554.1,784.8 1523.3,784.8 1522.1,783.6" stroke="none"/><polygon points="1536.0,884.0 1541.4,884.0 1541.4,862.3 1538.7,859.3 1536.0,862.3" stroke="none"/><polygon points="1522.1,882.4 1523.3,881.2 1554.1,881.2 1555.3,882.4 1555.3,885.6 1554.1,886.8 1523.3,886.8 1522.1,885.6" stroke="none"/><polygon points="2033.0,889.6 2038.4,889.6 2038.4,882.1 2035.7,879.1 2033.0,882.1" stroke="none"/><polygon points="2019.1,888.0 2020.2,886.8 2051.1,886.8 2052.2,888.0 2052.2,891.2 2051.1,892.4 2020.2,892.4 2019.1,891.2" stroke="none"/><polygon points="2033.0,931.6 2038.4,931.6 2038.4,939.7 2035.7,942.7 2033.0,939.7" stroke="none"/><polygon points="2019.1,930.0 2020.2,928.8 2051.1,928.8 2052.2,930.0 2052.2,933.2 2051.1,934.4 2020.2,934.4 2019.1,933.2" stroke="none"/><line x1="547.2" y1="190.0" x2="576.2" y2="190.0" stroke-width="1.2" stroke-linecap="butt"/><line x1="547.2" y1="299.0" x2="576.2" y2="299.0" stroke-width="1.2" stroke-linecap="butt"/><line x1="696.2" y1="455.6" x2="725.2" y2="455.6" stroke-width="1.2" stroke-linecap="butt"/><line x1="696.2" y1="556.4" x2="725.2" y2="556.4" stroke-width="1.2" stroke-linecap="butt"/><line x1="1276.0" y1="777.0" x2="1305.0" y2="777.0" stroke-width="1.2" stroke-linecap="butt"/><line x1="1276.0" y1="811.0" x2="1305.0" y2="811.0" stroke-width="1.2" stroke-linecap="butt"/></g>
<g stroke="#999999" fill="#999999" stroke-width="5.6" stroke-linecap="round"></g>
</g>
<g fill="#000" shape-rendering="crispEdges"><rect x="365" y="33" width="1840" height="5"/><rect x="365" y="1500" width="1840" height="6"/><rect x="377" y="33" width="6" height="1484"/><rect x="2199" y="33" width="6" height="1499"/><rect x="350" y="1378.3" width="28" height="6"/><rect x="365" y="1256.0" width="13" height="6"/><rect x="350" y="1133.8" width="28" height="6"/><rect x="365" y="1011.5" width="13" height="6"/><rect x="350" y="889.3" width="28" height="6"/><rect x="365" y="767.0" width="13" height="6"/><rect x="350" y="644.8" width="28" height="6"/><rect x="365" y="522.5" width="13" height="6"/><rect x="350" y="400.3" width="28" height="6"/><rect x="365" y="278.1" width="13" height="6"/><rect x="350" y="155.8" width="28" height="6"/><rect x="542.1" y="1505" width="6" height="27"/><rect x="707.8" y="1505" width="6" height="12"/><rect x="873.4" y="1505" width="6" height="27"/><rect x="1039.1" y="1505" width="6" height="12"/><rect x="1204.7" y="1505" width="6" height="27"/><rect x="1370.4" y="1505" width="6" height="12"/><rect x="1536.0" y="1505" width="6" height="27"/><rect x="1701.7" y="1505" width="6" height="12"/><rect x="1867.3" y="1505" width="6" height="27"/><rect x="2033.0" y="1505" width="6" height="12"/></g>
<g class="tk" text-anchor="end"><text x="330.5" y="1418.5">0.0</text><text x="330.5" y="1174.0">0.2</text><text x="330.5" y="929.5">0.4</text><text x="330.5" y="685.0">0.6</text><text x="330.5" y="440.5">0.8</text><text x="330.5" y="196.0">1.0</text></g>
<g class="tk" text-anchor="middle"><text x="545.1" y="1649.6">0</text><text x="876.4" y="1649.6">20</text><text x="1207.7" y="1649.6">40</text><text x="1539.0" y="1649.6">60</text><text x="1870.3" y="1649.6">80</text><text x="2201.6" y="1649.6">100</text></g>
<text class="tk" x="1034.6" y="1759.9" style="font-size:124.6px">Time (min)</text>
<text class="tk" transform="translate(124.6 942.2) rotate(-90)">C<tspan class="sub" dy="32.2">t</tspan><tspan dy="-32.2">/C</tspan><tspan class="sub" dy="32.2">0</tspan></text>
<g shape-rendering="crispEdges"><line x1="747.0" y1="145.0" x2="920.0" y2="145.0" stroke="#FF0000" stroke-width="6.3" stroke-linecap="round"/><circle cx="833.4" cy="144.5" r="29.9" fill="#FF0000"/><circle cx="824.9" cy="136.0" r="14.2" fill="#FF6B6B"/><circle cx="824.9" cy="136.0" r="9.6" fill="#FFB2B2"/><circle cx="824.9" cy="136.0" r="4.6" fill="#FFF7F7"/><line x1="747.0" y1="275.5" x2="920.0" y2="275.5" stroke="#00C36B" stroke-width="5.3" stroke-linecap="round"/><circle cx="833.4" cy="275.0" r="29.9" fill="#00C36B"/><circle cx="824.9" cy="266.5" r="14.2" fill="#6BDCA9"/><circle cx="824.9" cy="266.5" r="9.6" fill="#B2EDD3"/><circle cx="824.9" cy="266.5" r="4.6" fill="#F7FDFB"/><line x1="747.0" y1="406.0" x2="920.0" y2="406.0" stroke="#FFC205" stroke-width="5.6" stroke-linecap="round"/><circle cx="833.4" cy="405.5" r="29.9" fill="#FFC205"/><circle cx="824.9" cy="397.0" r="14.2" fill="#FFDC6E"/><circle cx="824.9" cy="397.0" r="9.6" fill="#FFEDB4"/><circle cx="824.9" cy="397.0" r="4.6" fill="#FFFDF8"/><line x1="1480.0" y1="145.0" x2="1654.0" y2="145.0" stroke="#00639B" stroke-width="6.0" stroke-linecap="round"/><circle cx="1566.3" cy="144.5" r="29.9" fill="#00639B"/><circle cx="1557.8" cy="136.0" r="14.2" fill="#6BA5C5"/><circle cx="1557.8" cy="136.0" r="9.6" fill="#B2D0E1"/><circle cx="1557.8" cy="136.0" r="4.6" fill="#F7FAFC"/><line x1="1480.0" y1="275.5" x2="1654.0" y2="275.5" stroke="#65659B" stroke-width="5.3" stroke-linecap="round"/><circle cx="1566.3" cy="275.0" r="29.9" fill="#65659B"/><circle cx="1557.8" cy="266.5" r="14.2" fill="#A6A6C5"/><circle cx="1557.8" cy="266.5" r="9.6" fill="#D1D1E1"/><circle cx="1557.8" cy="266.5" r="4.6" fill="#FAFAFC"/><line x1="1480.0" y1="406.0" x2="1654.0" y2="406.0" stroke="#999999" stroke-width="5.8" stroke-linecap="round"/><circle cx="1566.3" cy="405.5" r="29.9" fill="#999999"/><circle cx="1557.8" cy="397.0" r="14.2" fill="#C4C4C4"/><circle cx="1557.8" cy="397.0" r="9.6" fill="#E0E0E0"/><circle cx="1557.8" cy="397.0" r="4.6" fill="#FCFCFC"/></g>
<g class="lg"><text x="943.5" y="177.9">Citric acid</text><text x="943.5" y="308.4">Tartaric acid</text><text x="943.5" y="438.9">Cys</text><text x="1675.8" y="177.9">Oxalic acid</text><text x="1675.8" y="308.4">EDTA</text><text x="1675.8" y="438.9">None ligand</text></g>
</svg>
</body></html>
